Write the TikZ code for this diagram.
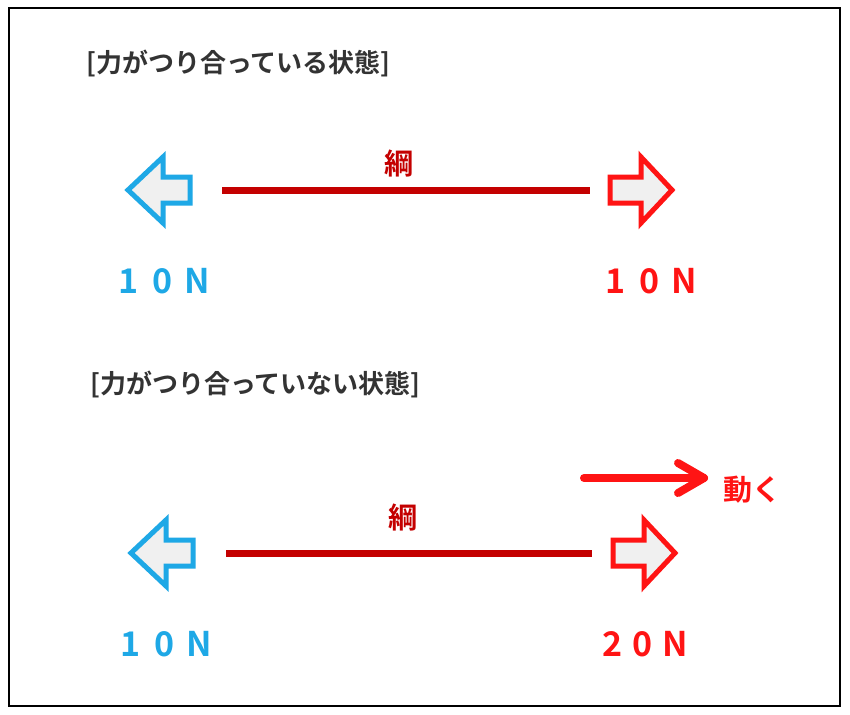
\documentclass[tikz,border=0pt]{standalone}
\usepackage{fontspec}
\newfontfamily\jpb{Noto Sans CJK JP Bold}
\definecolor{titlegray}{HTML}{333333}
\definecolor{nblue}{HTML}{1EA8E6}
\definecolor{nred}{HTML}{FF1414}
\definecolor{rope}{HTML}{C40000}
\definecolor{fillgray}{HTML}{F0F0F0}
\newcommand{\tenN}{\makebox[34pt]{1}\makebox[34pt]{0}\makebox[36pt]{N}}
\newcommand{\twentyN}{\makebox[30pt]{2}\makebox[30pt]{0}\makebox[36pt]{N}}
\tikzset{
  title/.style={font=\jpb\fontsize{26}{26}\selectfont, text=titlegray, anchor=west, inner sep=0pt},
  ropelabel/.style={font=\jpb\fontsize{29}{29}\selectfont, text=rope, inner sep=0pt},
  forcelabel/.style={font=\jpb\fontsize{34}{34}\selectfont, anchor=west, inner sep=0pt},
  ropeline/.style={draw=rope, line width=7pt},
  hollow/.style={line width=5pt, fill=fillgray, line join=miter},
  movearrow/.style={draw=nred, line width=8pt, line cap=round, line join=round}
}
\begin{document}
\begin{tikzpicture}[x=1pt,y=-1pt]
\useasboundingbox (0,0) rectangle (850,714);
\fill[white] (0,0) rectangle (850,714);
\draw[line width=2.5pt, black] (9,8) rectangle (840,706);

% ---------- top ----------
\node[title] (t1) at (86,63) {[力がつり合っている状態]};
\draw[hollow, draw=nblue] (128,190) -- (163,157) -- (163,177) -- (190,177) -- (190,203) -- (163,203) -- (163,223) -- cycle;
\draw[hollow, draw=nred] (610,177) -- (641,177) -- (641,157) -- (672,190) -- (641,223) -- (641,203) -- (610,203) -- cycle;
\coordinate (r1a) at (222,190);
\coordinate (r1b) at (590,190);
\draw[ropeline] (r1a) -- (r1b);
\node[ropelabel] (k1) at (399,163) {綱};
\node[forcelabel, text=nblue] (f1l) at (111.5,281) {\tenN};
\node[forcelabel, text=nred] (f1r) at (598.5,281) {\tenN};

% ---------- bottom ----------
\node[title] (t2) at (90,384) {[力がつり合っていない状態]};
\coordinate (m1) at (584,478);
\coordinate (m2) at (704,478);
\draw[movearrow] (m1) -- (m2);
\draw[movearrow] (678,463) -- (m2) -- (678,493);
\node[ropelabel, text=nred, anchor=west] (mv) at (723,490) {動く};
\draw[hollow, draw=nblue] (131,553) -- (166,520) -- (166,540) -- (193,540) -- (193,566) -- (166,566) -- (166,586) -- cycle;
\draw[hollow, draw=nred] (613,540) -- (644,540) -- (644,520) -- (675,553) -- (644,586) -- (644,566) -- (613,566) -- cycle;
\coordinate (r2a) at (226,553);
\coordinate (r2b) at (592,553);
\draw[ropeline] (r2a) -- (r2b);
\node[ropelabel] (k2) at (403,517) {綱};
\node[forcelabel, text=nblue] (f2l) at (113.5,644) {\tenN};
\node[forcelabel, text=nred] (f2r) at (597.5,644) {\twentyN};
\end{tikzpicture}
\end{document}
